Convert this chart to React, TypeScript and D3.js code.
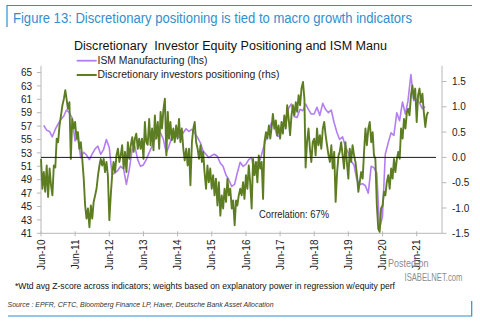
import React from "react";
import * as d3 from "d3";

// ISM Manufacturing (lhs), monthly Jun-2010 .. Aug-2021
const ismValues: number[] = [
  57.1, 56.4, 56.2, 55.4, 56.5, 57.3, 58.0,
  58.5, 59.4, 59.0, 58.2, 54.8, 55.3, 52.3, 53.1, 52.7, 52.0, 52.8, 53.6,
  54.0, 52.8, 53.5, 55.0, 53.8, 49.8, 50.0, 50.4, 51.0, 50.6, 48.3, 50.5,
  53.5, 54.0, 52.0, 51.0, 51.2, 52.0, 53.0, 54.0, 55.0, 55.8, 56.0, 55.0,
  53.0, 54.0, 55.4, 55.2, 55.6, 55.3, 56.0, 56.6, 56.2, 56.5, 56.0, 55.3,
  54.5, 53.3, 52.8, 52.3, 52.6, 52.8, 52.5, 51.5, 51.0, 49.7, 49.0, 48.0,
  48.3, 50.0, 51.6, 51.0, 51.3, 52.0, 52.3, 50.0, 51.5, 52.0, 53.5, 55.0,
  56.2, 57.5, 57.0, 55.5, 55.5, 57.5, 57.0, 59.7, 60.3, 58.4, 58.3, 59.5,
  59.3, 60.3, 59.5, 58.8, 58.8, 59.8, 58.6, 60.4, 59.5, 59.0, 59.4, 57.5,
  56.0, 55.0, 55.4, 54.0, 53.0, 51.8, 51.2, 49.0, 48.3, 48.4, 48.1, 47.0,
  51.0, 50.8, 50.0, 41.7, 43.5, 52.8, 54.5, 56.0, 55.6, 59.0, 57.8, 60.6,
  58.8, 60.8, 64.7, 60.8, 61.0, 60.5, 59.6, 59.9,
];

// Discretionary investors positioning (rhs), half-monthly from Jun-2010
const posValues: number[] = [
  -0.03, -0.62, -0.29, -0.68, -0.16, -0.78, -0.22, -0.55, -0.75, -0.16,
  -0.2, 0.37, 0.3, 0.63, 0.83, 1.03, 1.16, 1.33, 1.16, 0.96,
  1.09, -0.03, 0.76, 0.57, 0.7, 0.37, 0.5, 0.17, 0.3, -0.03,
  -0.42, -0.95, -1.21, -1.01, -1.38, -0.95, -1.21, -0.88, -0.75, -0.62,
  -0.35, -0.16, -0.03, -0.16, -0.03, -0.29, -0.09, -0.35, -1.24, -0.75,
  -0.35, -0.09, -0.29, 0.04, 0.17, -0.09, 0.04, 0.24, -0.22, 0.11,
  -0.29, 0.3, -0.03, 0.24, 0.4, 0.11, 0.37, 0.47, 0.17, 0.37,
  0.17, 0.37, -0.03, 0.7, 0.3, 0.25, 0.76, 0.24, 0.57, 0.14,
  0.83, 0.37, 0.7, 0.17, 0.9, 0.57, 0.96, 1.16, 0.04, 0.9,
  0.37, 0.7, 0.34, 0.57, 0.3, 0.63, 0.37, 0.76, 0.3, 0.57,
  0.17, -0.06, 0.17, -0.16, 0.17, -0.55, 0.3, 0.57, 0.7, 0.3,
  0.17, -0.03, 0.24, -0.09, 0.11, -0.29, -0.62, -0.16, -0.49, -0.22,
  -0.62, -0.35, -0.75, -0.42, -0.95, -0.49, -1.15, -0.75, -1.01, -0.62,
  -0.88, -0.42, -0.75, -0.62, -1.01, -0.85, -1.34, -0.85, -0.95, -0.75,
  -0.62, -0.75, -0.49, -0.82, -0.35, -0.62, -0.16, -0.49, -1.01, -0.03,
  -0.35, -0.09, -0.49, 0.04, -0.22, -0.09, -0.82, 0.3, 0.5, 0.37,
  0.63, 0.37, 0.57, 0.86, 0.57, 0.73, 0.44, 0.63, 0.37, 0.7,
  0.47, 0.83, 0.57, 1.03, 0.76, 0.44, 0.83, 1.03, 0.83, 1.09,
  0.9, 1.23, 1.03, 1.36, 1.49, 1.16, -0.2, 0.3, 0.57, 0.17,
  -0.09, 0.3, 0.37, 0.04, 0.57, 0.24, 0.44, 0.17, 0.57, 0.7,
  0.44, 0.24, 0.04, -0.09, 0.24, -0.22, 0.11, -0.88, -0.29, 0.04,
  0.11, 0.3, 0.04, -0.22, 0.3, -0.09, -0.42, 0.17, -0.09, 0.24,
  0.04, -0.09, -0.35, -0.68, -0.49, -0.29, -0.42, 0.11, 0.57, 0.24,
  0.57, 0.7, 0.3, 0.5, 0.04, -0.03, -0.95, -1.41, -1.47, -1.01,
  -0.95, -0.68, -0.75, -0.49, -0.35, -0.62, -0.22, -0.42, -0.03, -0.29,
  -0.03, 0.11, -0.03, 0.57, 0.37, 0.76, 0.57, 0.9, 0.96, 0.83,
  1.23, 1.42, 1.16, 1.36, 0.7, 1.23, 1.36, 1.09, 1.26, 0.9,
  0.6, 0.83, 0.9,
];

const tickYears: number[] = [2010, 2011, 2012, 2013, 2014, 2015, 2016, 2017, 2018, 2019, 2020, 2021];
const leftTicks: number[] = [41, 43, 45, 47, 49, 51, 53, 55, 57, 59, 61, 63, 65];
const rightTicks: number[] = [-1.5, -1.0, -0.5, 0.0, 0.5, 1.0, 1.5];

const figureTitle = "Figure 13: Discretionary positioning is tied to macro growth indicators";
const chartTitle = "Discretionary  Investor Equity Positioning and ISM Manu";
const legendIsm = "ISM Manufacturing (lhs)";
const legendPos = "Discretionary investors positioning (rhs)";
const corrText = "Correlation: 67%";
const footnote = "*Wtd avg Z-score across indicators; weights based on explanatory power in regression w/equity perf";
const sourceText = "Source : EPFR, CFTC, Bloomberg Finance LP, Haver, Deutsche Bank Asset Allocation";

const FONT = "'Liberation Sans', Arial, Helvetica, sans-serif";
const PURPLE = "#b27ef2";
const GREEN = "#5d7d22";
const BLUE = "#2f8fd0";
const AXIS = "#b8b8b8";

export default function App() {
  const x = d3.scaleTime().domain([new Date(2010, 5, 1), new Date(2021, 5, 1)]).range([41, 416.7]);
  const yL = d3.scaleLinear().domain([41, 66]).range([233.3, 65.8]);
  const yR = d3.scaleLinear().domain([-1.5, 1.8]).range([233.3, 66.3]);

  const ismData = ismValues.map((v, i) => ({ d: new Date(2010, 5 + i + 1, 0), v }));
  const posData = posValues.map((v, i) => ({
    d: new Date(2010, 5 + Math.floor(i / 2), i % 2 ? 16 : 1),
    v,
  }));

  const ismLine = d3.line<{ d: Date; v: number }>().x((p) => x(p.d)).y((p) => yL(p.v));
  const posLine = d3.line<{ d: Date; v: number }>().x((p) => x(p.d)).y((p) => yR(p.v));
  const fmt = d3.timeFormat("%b-%y");

  const plotLeft = 41;
  const plotRight = 442;
  const plotBottom = 233.3;
  const plotTop = 65.8;

  return (
    <svg
      width={480}
      height={322}
      viewBox="0 0 480 322"
      style={{ position: "absolute", left: 0, top: 0, background: "#fff" }}
      fontFamily={FONT}
    >
      <rect x={0} y={0} width={480} height={322} fill="#fff" />
      {/* frame */}
      <path d="M7,27 V5.5 H472" fill="none" stroke={BLUE} strokeWidth={1.2} />
      <path d="M8,316 H471.7 V301" fill="none" stroke={BLUE} strokeWidth={1.2} />
      <text x={13} y={23} fontSize={14} fill={BLUE} textLength={399} lengthAdjust="spacingAndGlyphs">
        {figureTitle}
      </text>

      <text x={74} y={49.5} fontSize={12} fill="#111" textLength={313} lengthAdjust="spacingAndGlyphs" style={{ whiteSpace: "pre" }}>
        {chartTitle}
      </text>

      {/* legend */}
      <line x1={76.7} x2={96.7} y1={60.7} y2={60.7} stroke={PURPLE} strokeWidth={1.8} />
      <text x={97.5} y={64} fontSize={10} fill="#222" textLength={110} lengthAdjust="spacingAndGlyphs">
        {legendIsm}
      </text>
      <line x1={76.7} x2={96.7} y1={75} y2={75} stroke={GREEN} strokeWidth={2} />
      <text x={97.5} y={78.4} fontSize={10} fill="#222" textLength={182} lengthAdjust="spacingAndGlyphs">
        {legendPos}
      </text>

      {/* axes */}
      <line x1={plotLeft} x2={plotLeft} y1={plotTop} y2={plotBottom} stroke={AXIS} strokeWidth={1} />
      <line x1={plotRight} x2={plotRight} y1={plotTop} y2={plotBottom} stroke={AXIS} strokeWidth={1} />
      <line x1={plotLeft} x2={plotRight} y1={plotBottom} y2={plotBottom} stroke={AXIS} strokeWidth={1} />

      {leftTicks.map((t) => (
        <g key={"l" + t}>
          <line x1={37} x2={plotLeft} y1={yL(t)} y2={yL(t)} stroke={AXIS} />
          <text x={32} y={yL(t) + 3.6} fontSize={10} textAnchor="end" fill="#222">
            {t}
          </text>
        </g>
      ))}
      {rightTicks.map((t) => (
        <g key={"r" + t}>
          <line x1={plotRight} x2={446.5} y1={yR(t)} y2={yR(t)} stroke={AXIS} />
          <text x={452} y={yR(t) + 3.6} fontSize={10} textAnchor="start" fill="#222">
            {t.toFixed(1)}
          </text>
        </g>
      ))}
      {tickYears.map((yr) => {
        const d = new Date(yr, 5, 1);
        const tx = x(d);
        return (
          <g key={"x" + yr}>
            <line x1={tx} x2={tx} y1={plotBottom - 2} y2={plotBottom + 3} stroke={AXIS} />
            <text
              transform={`translate(${tx + 3.6},239.5) rotate(-90)`}
              fontSize={10}
              textAnchor="end"
              fill="#222"
            >
              {fmt(d)}
            </text>
          </g>
        );
      })}

      {/* series */}
      <path d={ismLine(ismData) || ""} fill="none" stroke={PURPLE} strokeWidth={1.6} strokeLinejoin="round" />
      <path d={posLine(posData) || ""} fill="none" stroke={GREEN} strokeWidth={1.9} strokeLinejoin="round" />
      <line x1={plotLeft} x2={436} y1={yR(0)} y2={yR(0)} stroke="#1a1a1a" strokeWidth={1} />

      <text x={259} y={217.5} fontSize={10} fill="#222" textLength={70} lengthAdjust="spacingAndGlyphs">
        {corrText}
      </text>

      <text x={15} y={288.5} fontSize={9} fill="#111" textLength={380} lengthAdjust="spacingAndGlyphs">
        {footnote}
      </text>
      <text x={7.5} y={307} fontSize={7.2} fontStyle="italic" fill="#333" textLength={266} lengthAdjust="spacingAndGlyphs">
        {sourceText}
      </text>

      {/* watermark */}
      <text transform="translate(388,267) scale(0.86,1)" fontSize={10.5} fill="#8c8c8c">
        Posted on
      </text>
      <text transform="translate(404.5,280.5) scale(0.73,1)" fontSize={10.5} fill="#8c8c8c">
        ISABELNET.com
      </text>
    </svg>
  );
}
